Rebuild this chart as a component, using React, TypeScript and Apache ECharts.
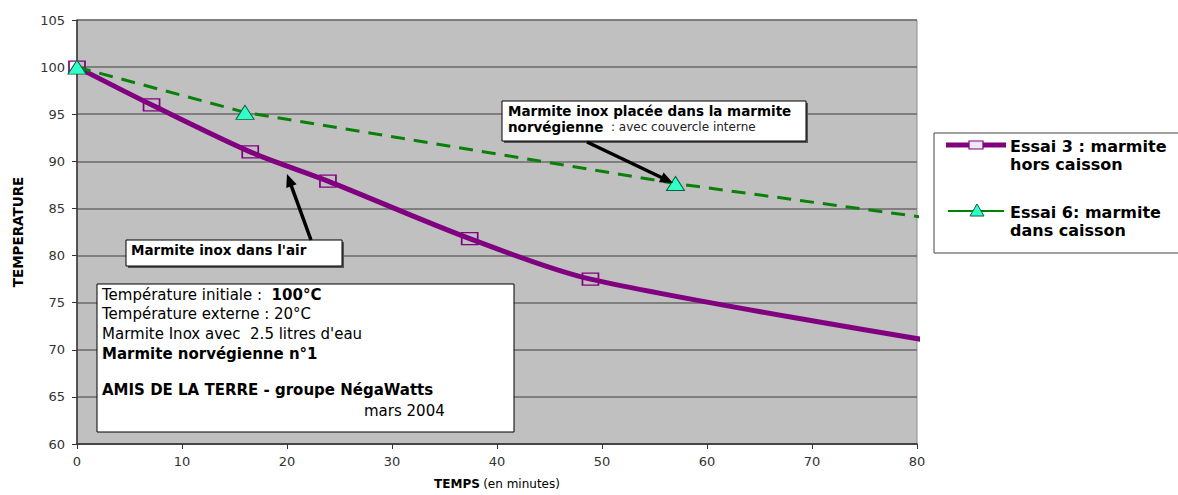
import React, { useEffect, useRef } from "react";
import * as echarts from "echarts";

// ---- data ----
const purpleTimes = [0, 7.1, 16.5, 23.9, 37.4, 48.9, 81];
const purpleTemps = [100, 96.0, 91.0, 87.9, 81.8, 77.5, 71.0];
const greenTimes = [0, 16, 57, 81];
const greenTemps = [100, 95.2, 87.65, 84.0];
const seriesNames = ["Essai 3 : marmite hors caisson", "Essai 6: marmite dans caisson"];
const legendLines = [
  ["Essai 3 : marmite", "hors caisson"],
  ["Essai 6: marmite", "dans caisson"],
];
const infoLines = [
  "Température externe : 20°C",
  "Marmite Inox avec  2.5 litres d'eau",
];

const FONT = "DejaVu Sans";

function arrow(x1: number, y1: number, x2: number, y2: number, w: number, hl: number, hw: number) {
  const dx = x2 - x1, dy = y2 - y1;
  const L = Math.hypot(dx, dy);
  const ux = dx / L, uy = dy / L;
  const px = -uy, py = ux;
  const bx = x2 - ux * hl, by = y2 - uy * hl;
  return [
    { type: "line", shape: { x1, y1, x2: bx + ux * 2, y2: by + uy * 2 }, style: { stroke: "#000", lineWidth: w }, z: 100 },
    {
      type: "polygon",
      shape: { points: [[x2, y2], [bx + px * hw, by + py * hw], [bx - px * hw, by - py * hw]] },
      style: { fill: "#000" },
      z: 100,
    },
  ];
}

function txt(x: number, y: number, text: string, size: number, bold: boolean, extra: any = {}) {
  return {
    type: "text",
    x,
    y,
    z: 101,
    style: {
      text,
      fill: "#000",
      font: `${bold ? "bold " : ""}${size}px '${FONT}'`,
      verticalAlign: "middle",
      align: "left",
      ...extra,
    },
  };
}

export default function App() {
  const ref = useRef<HTMLDivElement>(null);
  useEffect(() => {
    if (!ref.current) return;
    const chart = echarts.init(ref.current, undefined, { renderer: "svg" });
    const lastP = purpleTimes.length - 1;
    const lastG = greenTimes.length - 1;

    const graphics: any[] = [
      // annotation 1
      { type: "rect", shape: { x: 504, y: 103, width: 304, height: 40 }, style: { fill: "#555" }, z: 99 },
      { type: "rect", shape: { x: 502, y: 101, width: 304, height: 40 }, style: { fill: "#fff", stroke: "#000", lineWidth: 1 }, z: 100 },
      txt(508, 111, "Marmite inox placée dans la marmite", 13.5, true),
      {
        type: "text",
        x: 508,
        y: 127,
        z: 101,
        style: {
          text: "{b|norvégienne}{n|  : avec couvercle interne}",
          verticalAlign: "middle",
          rich: {
            b: { fontFamily: FONT, fontWeight: "bold", fontSize: 13.5, fill: "#000" },
            n: { fontFamily: FONT, fontSize: 12, fill: "#222" },
          },
        },
      },
      ...arrow(587, 142, 673, 183, 3.5, 13, 5.5),
      // annotation 2
      { type: "rect", shape: { x: 128, y: 242, width: 216, height: 26 }, style: { fill: "#555" }, z: 99 },
      { type: "rect", shape: { x: 126, y: 240, width: 216, height: 26 }, style: { fill: "#fff", stroke: "#000", lineWidth: 1 }, z: 100 },
      txt(131, 250, "Marmite inox dans l'air", 13.5, true),
      ...arrow(311, 240, 287, 174, 3.5, 13, 5.5),
      // info box
      { type: "rect", shape: { x: 97, y: 284, width: 417, height: 148 }, style: { fill: "#fff", stroke: "#000", lineWidth: 1 }, z: 100 },
      {
        type: "text",
        x: 102,
        y: 295,
        z: 101,
        style: {
          text: "{n|Température initiale :  }{b|100°C}",
          verticalAlign: "middle",
          rich: {
            b: { fontFamily: FONT, fontWeight: "bold", fontSize: 15, fill: "#000" },
            n: { fontFamily: FONT, fontSize: 15, fill: "#000" },
          },
        },
      },
      txt(102, 314, infoLines[0], 15, false),
      txt(102, 334, infoLines[1], 15, false),
      txt(102, 354, "Marmite norvégienne n°1", 15, true),
      txt(102, 390, "AMIS DE LA TERRE - groupe NégaWatts", 15, true),
      txt(364, 411, "mars 2004", 15, false),
      // legend
      { type: "rect", shape: { x: 934, y: 133, width: 260, height: 120 }, style: { fill: "#fff", stroke: "#444", lineWidth: 1 }, z: 100 },
      { type: "line", shape: { x1: 946, y1: 145, x2: 1006, y2: 145 }, style: { stroke: "#800080", lineWidth: 5 }, z: 101 },
      { type: "rect", shape: { x: 969, y: 141, width: 14, height: 8 }, style: { fill: "#f2e6f2", stroke: "#800080", lineWidth: 1.2 }, z: 102 },
      txt(1010, 146, legendLines[0][0], 16, true),
      txt(1010, 164, legendLines[0][1], 16, true),
      { type: "line", shape: { x1: 948, y1: 211, x2: 1004, y2: 211 }, style: { stroke: "#008000", lineWidth: 2 }, z: 101 },
      {
        type: "polygon",
        shape: { points: [[977, 204], [970, 216], [984, 216]] },
        style: { fill: "#33ffcc", stroke: "#006633", lineWidth: 1 },
        z: 102,
      },
      txt(1010, 212, legendLines[1][0], 16, true),
      txt(1010, 230, legendLines[1][1], 16, true),
    ];

    chart.setOption({
      animation: false,
      backgroundColor: "#ffffff",
      grid: {
        left: 77,
        right: 261,
        top: 20,
        bottom: 47,
        show: true,
        backgroundColor: "#c0c0c0",
        borderColor: "#8a8a8a",
        borderWidth: 1,
      },
      xAxis: {
        type: "value",
        min: 0,
        max: 80,
        interval: 10,
        axisLine: { show: true, onZero: false, lineStyle: { color: "#333", width: 1.5 } },
        axisTick: { show: true, inside: false, length: 5, lineStyle: { color: "#333" } },
        axisLabel: { margin: 11, fontSize: 13, color: "#333", fontFamily: FONT },
        splitLine: { show: false },
        name: "{b|TEMPS} {n|(en minutes)}",
        nameLocation: "middle",
        nameGap: 34,
        nameTextStyle: {
          rich: {
            b: { fontFamily: FONT, fontWeight: "bold", fontSize: 12, color: "#000" },
            n: { fontFamily: FONT, fontSize: 12, color: "#000" },
          },
        },
      },
      yAxis: {
        type: "value",
        min: 60,
        max: 105,
        interval: 5,
        axisLine: { show: true, onZero: false, lineStyle: { color: "#333", width: 1.5 } },
        axisTick: { show: true, inside: false, length: 5, lineStyle: { color: "#333" } },
        axisLabel: { margin: 12, fontSize: 13, color: "#333", fontFamily: FONT },
        splitLine: { show: true, lineStyle: { color: "#6a6a6a", width: 1.5 } },
        name: "TEMPERATURE",
        nameLocation: "middle",
        nameGap: 52,
        nameTextStyle: { fontFamily: FONT, fontWeight: "bold", fontSize: 13.5, color: "#000" },
      },
      series: [
        {
          name: seriesNames[0],
          type: "line",
          smooth: 0.3,
          clip: false,
          z: 3,
          data: purpleTimes.map((t, i) => ({
            value: [t, purpleTemps[i]],
            symbol: i === lastP ? "none" : "rect",
          })),
          symbol: "rect",
          symbolSize: [16, 12],
          lineStyle: { color: "#800080", width: 5 },
          itemStyle: { color: "rgba(0,0,0,0)", borderColor: "#800080", borderWidth: 1.5 },
        },
        {
          name: seriesNames[1],
          type: "line",
          clip: false,
          z: 4,
          data: greenTimes.map((t, i) => ({
            value: [t, greenTemps[i]],
            symbol: i === lastG ? "none" : "triangle",
          })),
          symbol: "triangle",
          symbolSize: [18, 14],
          lineStyle: { color: "#0a800a", width: 3, type: [14, 9] },
          itemStyle: { color: "#33ffcc", borderColor: "#006633", borderWidth: 1 },
        },
      ],
      graphic: graphics,
    });
    return () => chart.dispose();
  }, []);
  return (
    <div
      ref={ref}
      style={{ position: "fixed", left: 0, top: 0, width: 1178, height: 495, background: "#fff" }}
    />
  );
}
